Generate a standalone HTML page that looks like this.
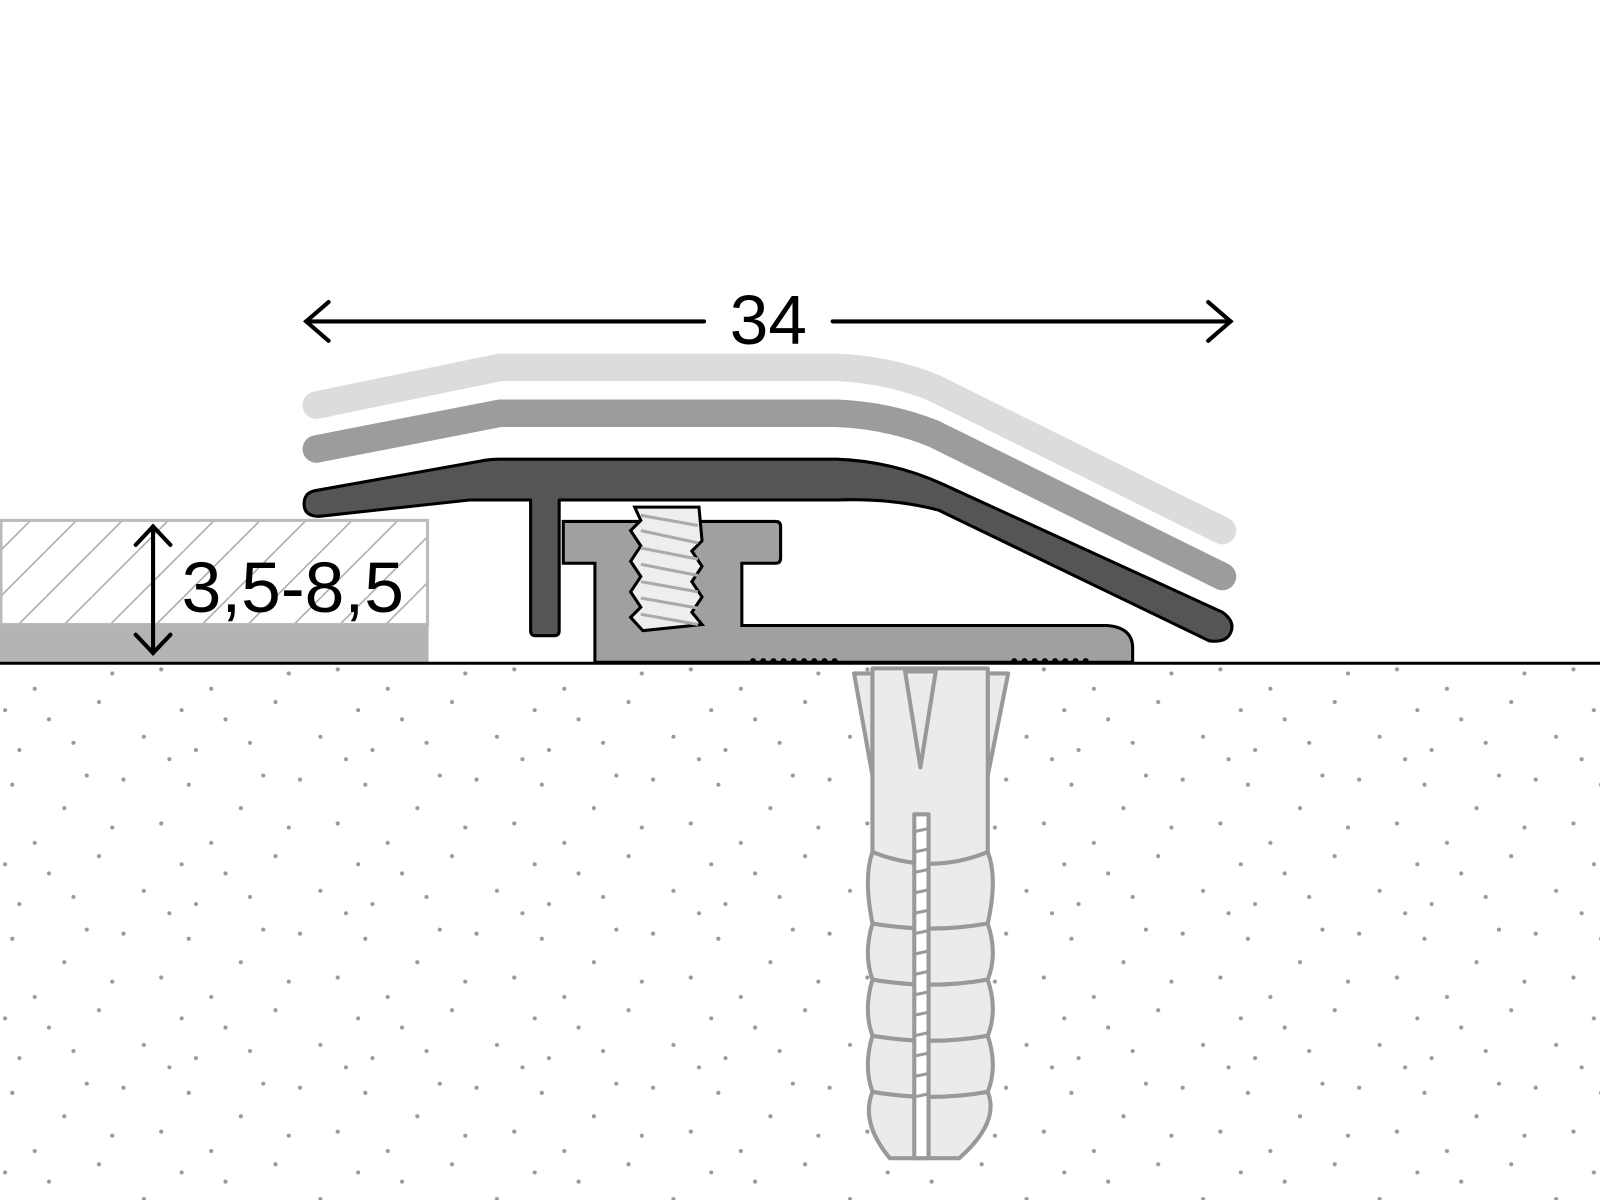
<!DOCTYPE html>
<html><head><style>html,body{margin:0;padding:0;background:#fff}svg{display:block}</style></head>
<body>
<svg width="1600" height="1200" viewBox="0 0 1568 1176" preserveAspectRatio="none" xmlns="http://www.w3.org/2000/svg">
<defs>
<pattern id="dots" width="173" height="151" patternUnits="userSpaceOnUse">
<g fill="#999">
<circle cx="12" cy="14" r="2"/><circle cx="63" cy="37" r="2"/><circle cx="121" cy="9" r="2"/><circle cx="158" cy="52" r="2"/>
<circle cx="34" cy="71" r="2"/><circle cx="97" cy="84" r="2"/><circle cx="141" cy="118" r="2"/><circle cx="19" cy="131" r="2"/>
<circle cx="72" cy="124" r="2"/><circle cx="110" cy="56" r="2"/><circle cx="48" cy="101" r="2"/><circle cx="166" cy="140" r="2"/>
<circle cx="85" cy="5" r="2"/><circle cx="5" cy="92" r="2"/>
</g>
</pattern>
<pattern id="hatch" width="45" height="45" patternUnits="userSpaceOnUse">
<path d="M-5 50 L50 -5 M-50 50 L5 -5 M40 95 L95 40" stroke="#aaa" stroke-width="1.5"/>
</pattern>
</defs>
<rect x="0" y="652" width="1568" height="524" fill="url(#dots)"/>
<!-- left floor -->
<rect x="1" y="510" width="418" height="102" fill="url(#hatch)" stroke="#bbb" stroke-width="3"/>
<rect x="0" y="612" width="420" height="38" fill="#b4b4b4"/>
<!-- layers -->
<path d="M310 397 L490 360 L820 360 Q870 362 915 380 L1198 520" fill="none" stroke="#dcdcdc" stroke-width="27" stroke-linecap="round" stroke-linejoin="round"/>
<path d="M310 440 L490 405 L820 405 Q870 407 915 425 L1198 565" fill="none" stroke="#9c9c9c" stroke-width="27" stroke-linecap="round" stroke-linejoin="round"/>
<!-- clip base -->
<path d="M583 649 L583 552 L552 552 L552 511 L760 511 Q765 511 765 516 L765 547 Q765 552 760 552 L727 552 L727 613 L1085 613 Q1110 615 1110 635 L1110 649 Z" fill="#a0a0a0" stroke="#000" stroke-width="3"/>
<!-- screw -->
<path d="M622 497 L685 497 L688 530 L678 540 L688 555 L678 570 L688 585 L678 600 L688 612 L630 618 L618 605 L628 595 L618 580 L628 565 L618 550 L628 535 L618 520 L628 510 Z" fill="#eee" stroke="#000" stroke-width="3"/>
<g stroke="#aaa" stroke-width="3"><path d="M628 505 L684 515 M628 520 L684 532 M628 537 L684 548 M628 553 L684 564 M628 570 L684 580 M628 586 L684 596 M628 602 L684 612"/></g>
<!-- dark profile -->
<path d="M308 481 L470 452 Q480 450 490 450 L820 450 Q875 452 925 475 L1198 600 Q1212 610 1205 622 Q1200 630 1185 628 L920 500 Q875 488 820 490 L548 490 L548 618 Q548 623 543 623 L525 623 Q520 623 520 618 L520 490 L460 490 L313 506 Q298 506 298 494 Q298 483 308 481 Z" fill="#555" stroke="#000" stroke-width="3" stroke-linejoin="round"/>
<!-- teeth -->
<g fill="#000"><circle cx="738" cy="648" r="3"/><circle cx="748" cy="648" r="3"/><circle cx="758" cy="648" r="3"/><circle cx="768" cy="648" r="3"/><circle cx="778" cy="648" r="3"/><circle cx="788" cy="648" r="3"/><circle cx="798" cy="648" r="3"/><circle cx="808" cy="648" r="3"/><circle cx="818" cy="648" r="3"/>
<circle cx="994" cy="648" r="3"/><circle cx="1004" cy="648" r="3"/><circle cx="1014" cy="648" r="3"/><circle cx="1024" cy="648" r="3"/><circle cx="1034" cy="648" r="3"/><circle cx="1044" cy="648" r="3"/><circle cx="1054" cy="648" r="3"/><circle cx="1064" cy="648" r="3"/></g>
<line x1="0" y1="650" x2="1568" y2="650" stroke="#000" stroke-width="3"/>
<!-- dowel -->
<g fill="#ebebeb" stroke="#999" stroke-width="4" stroke-linejoin="round">
<path d="M837 660 L855 660 L855 760 Z"/><path d="M988 660 L968 660 L968 760 Z"/>
<path d="M855 655 L968 655 L968 835 Q912 858 855 835 Z"/>
<path d="M855 835 Q912 858 968 835 Q978 860 968 905 Q912 915 855 905 Q846 860 855 835 Z"/>
<path d="M855 905 Q912 915 968 905 Q978 935 968 960 Q912 970 855 960 Q846 935 855 905 Z"/>
<path d="M855 960 Q912 970 968 960 Q978 990 968 1015 Q912 1025 855 1015 Q846 990 855 960 Z"/>
<path d="M855 1015 Q912 1025 968 1015 Q978 1045 968 1070 Q912 1080 855 1070 Q846 1045 855 1015 Z"/>
<path d="M855 1070 Q912 1080 968 1070 Q980 1100 940 1135 L872 1135 Q843 1100 855 1070 Z"/>
<path d="M887 658 L917 658 L902 752 Z"/>
<rect x="896" y="798" width="14" height="337" fill="#fff"/>
</g>
<g stroke="#999" stroke-width="3"><path d="M896 815 L910 812 M896 835 L910 832 M896 855 L910 852 M896 875 L910 872 M896 895 L910 892 M896 915 L910 912 M896 935 L910 932 M896 955 L910 952 M896 975 L910 972 M896 995 L910 992 M896 1015 L910 1012 M896 1035 L910 1032 M896 1055 L910 1052 M896 1075 L910 1072"/></g>
<!-- dimension 34 -->
<g stroke="#000" stroke-width="4" fill="none" stroke-linecap="round">
<line x1="300" y1="315" x2="690" y2="315"/><line x1="816" y1="315" x2="1206" y2="315"/>
<path d="M322 296 L300 315 L322 334"/><path d="M1184 296 L1206 315 L1184 334"/>
<line x1="150" y1="516" x2="150" y2="640"/>
<path d="M133 534 L150 516 L167 534"/><path d="M133 622 L150 640 L167 622"/>
</g>
<text x="753" y="337" font-family="Liberation Sans, sans-serif" font-size="68" text-anchor="middle" fill="#000">34</text>
<text x="178" y="600" font-family="Liberation Sans, sans-serif" font-size="70" fill="#000">3,5-8,5</text>
</svg>
</body></html>
